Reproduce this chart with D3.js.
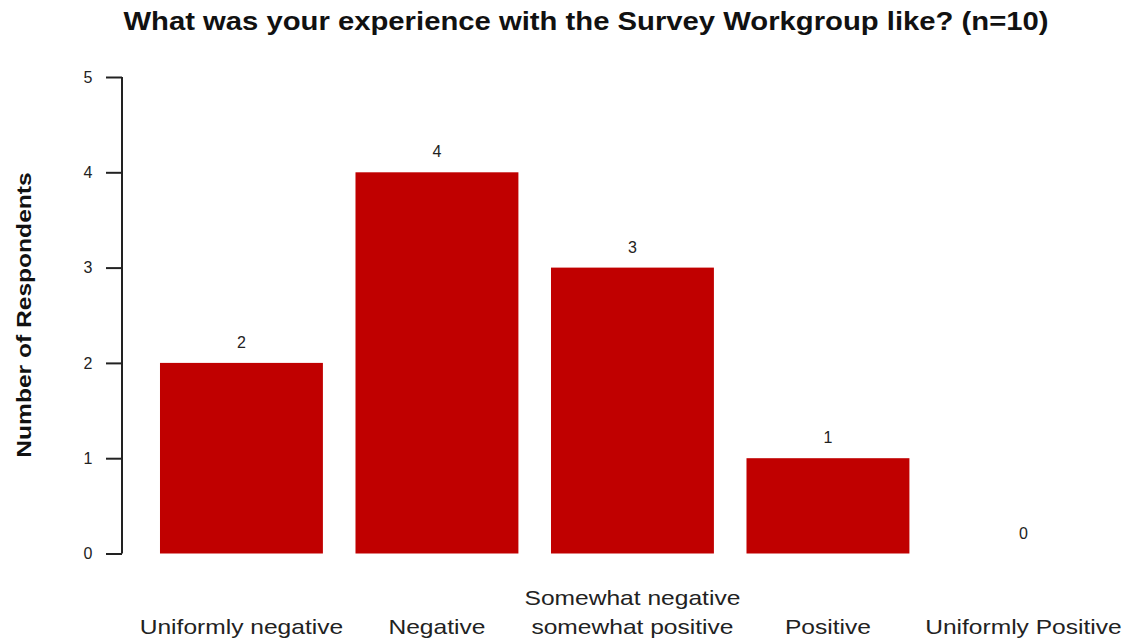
<!DOCTYPE html>
<html><head><meta charset="utf-8">
<script src="https://cdn.jsdelivr.net/npm/d3@7"></script>
<style>body{margin:0;background:#fff}svg{display:block}</style>
</head><body>
<script>
const categories = ["Uniformly negative","Negative","Somewhat negative\nsomewhat positive","Positive","Uniformly Positive"];
const values = [2,4,3,1,0];
const yTicks = [0,1,2,3,4,5];
const title = "What was your experience with the Survey Workgroup like? (n=10)";
const yTitle = "Number of Respondents";

const W=1126,H=643;
const svg=d3.select("body").append("svg").attr("width",W).attr("height",H);
const font="Liberation Sans, Arial, sans-serif";
const stretch=1.17;
function widen(sel){
  sel.each(function(){
    const len=this.getComputedTextLength();
    d3.select(this).attr("textLength",len*stretch).attr("lengthAdjust","spacingAndGlyphs");
  });
}
const x=d3.scaleBand().domain(categories).range([127.4,1137.5]).paddingInner(1/6).paddingOuter(1/6);
const y=d3.scaleLinear().domain([0,5]).range([553.5,77]);

svg.append("text").attr("x",586).attr("y",30).attr("text-anchor","middle")
  .attr("font-family",font).attr("font-weight","bold").attr("font-size",25).attr("fill","#111").text(title).call(widen);

svg.selectAll("rect.bar").data(values).join("rect").attr("class","bar")
  .attr("x",(d,i)=>x(categories[i])).attr("width",x.bandwidth())
  .attr("y",d=>y(d)).attr("height",d=>y(0)-y(d)).attr("fill","#C00000");

svg.selectAll("text.val").data(values).join("text").attr("class","val")
  .attr("x",(d,i)=>x(categories[i])+x.bandwidth()/2).attr("y",d=>y(d)-15)
  .attr("text-anchor","middle").attr("font-family",font).attr("font-size",16).attr("fill","#222").text(d=>d);

const ax=svg.append("g").attr("transform","translate(122,0)")
  .call(d3.axisLeft(y).tickValues(yTicks).tickSize(16).tickPadding(26).tickFormat(d3.format("d")));
ax.attr("font-size",null).attr("font-family",null);
ax.select(".domain").attr("d",`M0,${y(5)}V${y(0)}`).attr("stroke","#222").attr("stroke-width",2);
ax.selectAll(".tick line").attr("stroke","#222").attr("stroke-width",2);
ax.selectAll(".tick text").attr("font-family",font).attr("font-size",16).attr("fill","#222").attr("text-anchor","middle").attr("dx",8);

svg.append("text").attr("transform","translate(31,315) rotate(-90)").attr("text-anchor","middle")
  .attr("font-family",font).attr("font-weight","bold").attr("font-size",21).attr("fill","#111").text(yTitle).call(widen);

categories.forEach((c,i)=>{
  const lines=c.split("\n");
  lines.forEach((l,j)=>{
    svg.append("text").attr("text-anchor","middle").attr("font-family",font).attr("font-size",21).attr("fill","#222")
      .attr("x",x(c)+x.bandwidth()/2).attr("y",634-(lines.length-1-j)*29).text(l).call(widen);
  });
});
</script>
</body></html>
